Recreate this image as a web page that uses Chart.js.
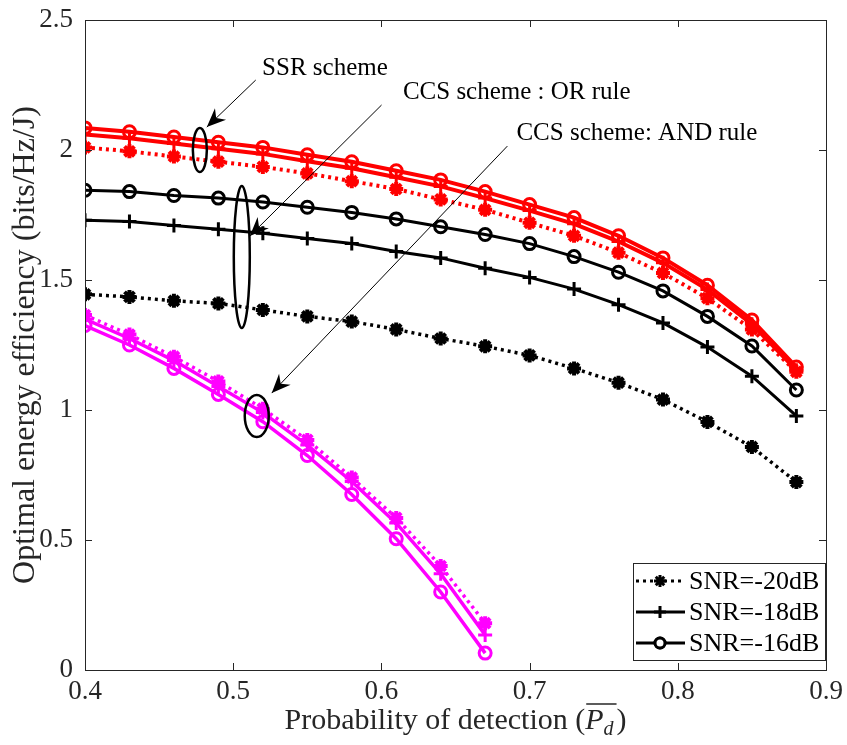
<!DOCTYPE html>
<html>
<head>
<meta charset="utf-8">
<title>Optimal energy efficiency</title>
<script src="https://cdn.jsdelivr.net/npm/chart.js@4.4.1/dist/chart.umd.min.js"></script>
<style>
  body { margin: 0; background: #fff; }
</style>
</head>
<body>
<canvas id="eeChart" width="847" height="745"></canvas>
<script>
// probability of detection samples
var pdLong = [0.40, 0.43, 0.46, 0.49, 0.52, 0.55, 0.58, 0.61, 0.64, 0.67, 0.70, 0.73, 0.76, 0.79, 0.82, 0.85, 0.88];
var pdShort = [0.40, 0.43, 0.46, 0.49, 0.52, 0.55, 0.58, 0.61, 0.64, 0.67];

// SSR scheme (red)
var ssr20 = [2.010, 1.995, 1.975, 1.955, 1.935, 1.910, 1.880, 1.850, 1.810, 1.770, 1.720, 1.670, 1.605, 1.527, 1.430, 1.310, 1.147];
var ssr18 = [2.060, 2.045, 2.025, 2.005, 1.985, 1.957, 1.930, 1.895, 1.860, 1.815, 1.767, 1.716, 1.648, 1.566, 1.463, 1.330, 1.153];
var ssr16 = [2.085, 2.070, 2.050, 2.030, 2.010, 1.982, 1.955, 1.920, 1.885, 1.840, 1.790, 1.740, 1.670, 1.585, 1.480, 1.346, 1.165];

// CCS scheme, OR rule (black)
var or20 = [1.445, 1.435, 1.420, 1.410, 1.385, 1.360, 1.340, 1.310, 1.275, 1.245, 1.210, 1.160, 1.105, 1.040, 0.954, 0.858, 0.723];
var or18 = [1.730, 1.725, 1.710, 1.695, 1.680, 1.660, 1.640, 1.610, 1.585, 1.545, 1.510, 1.465, 1.405, 1.335, 1.242, 1.130, 0.977];
var or16 = [1.845, 1.840, 1.825, 1.815, 1.800, 1.780, 1.760, 1.735, 1.705, 1.675, 1.640, 1.590, 1.530, 1.458, 1.360, 1.246, 1.077];

// CCS scheme, AND rule (magenta)
var and20 = [1.365, 1.290, 1.205, 1.110, 1.005, 0.885, 0.740, 0.585, 0.400, 0.180];
var and18 = [1.350, 1.275, 1.190, 1.090, 0.990, 0.865, 0.725, 0.565, 0.370, 0.135];
var and16 = [1.325, 1.250, 1.160, 1.060, 0.955, 0.825, 0.675, 0.505, 0.300, 0.065];

var xTicks = [0.4, 0.5, 0.6, 0.7, 0.8, 0.9];
var yTicks = [0, 0.5, 1, 1.5, 2, 2.5];
var snrLabels = ['SNR=-20dB', 'SNR=-18dB', 'SNR=-16dB'];

var axisColor = '#262626';
var serif = '"Liberation Serif", "DejaVu Serif", serif';

function pts(xs, ys) {
    return ys.map(function (v, i) { return { x: xs[i], y: v }; });
}

function series(xs, ys, color, kind, width) {
    var ds = {
        data: pts(xs, ys),
        borderColor: color,
        backgroundColor: color,
        borderWidth: width,
        pointBorderColor: color,
        pointBorderWidth: 3,
        pointRadius: 6,
        pointHoverRadius: 6,
        tension: 0,
        fill: false
    };
    if (kind === 'star') {
        ds.pointStyle = 'star';
        ds.pointRadius = 7;
        ds.pointBorderWidth = 4;
        ds.borderDash = [3, 4];
    } else if (kind === 'cross') {
        ds.pointStyle = 'cross';
        ds.pointRadius = 7;
    } else {
        ds.pointStyle = 'circle';
        ds.pointBackgroundColor = 'rgba(0,0,0,0)';
    }
    return ds;
}

// annotation callouts (data coordinates, ellipse radii in px)
var callouts = [
    { text: 'SSR scheme', tx: 0.5195, ty: 2.315, from: [0.5152, 2.269], to: [0.4822, 2.088], ex: 0.4775, ey: 2.0, rx: 7, ry: 22 },
    { text: 'CCS scheme : OR rule', tx: 0.6145, ty: 2.223, from: [0.6001, 2.173], to: [0.5112, 1.669], ex: 0.5058, ey: 1.588, rx: 8, ry: 71 },
    { text: 'CCS scheme: AND rule', tx: 0.6911, ty: 2.065, from: [0.6850, 2.015], to: [0.5260, 1.065], ex: 0.5159, ey: 0.977, rx: 12, ry: 21 }
];

function arrowHead(ctx, x0, y0, x1, y1) {
    var a = Math.atan2(y1 - y0, x1 - x0);
    var len = 19, half = 8, notch = 13;
    ctx.save();
    ctx.translate(x1, y1);
    ctx.rotate(a);
    ctx.beginPath();
    ctx.moveTo(0, 0);
    ctx.lineTo(-len, -half);
    ctx.lineTo(-notch, 0);
    ctx.lineTo(-len, half);
    ctx.closePath();
    ctx.fillStyle = '#000';
    ctx.fill();
    ctx.restore();
}

// keep the plot box fixed regardless of tick label overflow
function noPad(s) {
    s.paddingTop = 0; s.paddingBottom = 0;
    s.paddingLeft = 0; s.paddingRight = 0;
}

var framePlugin = {
    id: 'frame',
    afterDatasetsDraw: function (chart) {
        var ctx = chart.ctx, a = chart.chartArea;
        var xs = chart.scales.x, ys = chart.scales.y;
        ctx.save();

        // box with inward ticks
        ctx.strokeStyle = axisColor;
        ctx.lineWidth = 1;
        ctx.strokeRect(a.left + 0.5, a.top + 0.5, a.right - a.left, a.bottom - a.top);
        ctx.beginPath();
        xTicks.forEach(function (t) {
            var px = Math.round(xs.getPixelForValue(t)) + 0.5;
            ctx.moveTo(px, a.bottom); ctx.lineTo(px, a.bottom - 7);
            ctx.moveTo(px, a.top); ctx.lineTo(px, a.top + 7);
        });
        yTicks.forEach(function (t) {
            var py = Math.round(ys.getPixelForValue(t)) + 0.5;
            ctx.moveTo(a.left, py); ctx.lineTo(a.left + 7, py);
            ctx.moveTo(a.right, py); ctx.lineTo(a.right - 7, py);
        });
        ctx.stroke();

        // callouts
        ctx.strokeStyle = '#000';
        ctx.fillStyle = '#000';
        callouts.forEach(function (c) {
            var fx = xs.getPixelForValue(c.from[0]), fy = ys.getPixelForValue(c.from[1]);
            var tx = xs.getPixelForValue(c.to[0]), ty = ys.getPixelForValue(c.to[1]);
            ctx.lineWidth = 1;
            ctx.beginPath();
            ctx.moveTo(fx, fy);
            ctx.lineTo(tx, ty);
            ctx.stroke();
            arrowHead(ctx, fx, fy, tx, ty);

            ctx.lineWidth = 2.5;
            ctx.beginPath();
            ctx.ellipse(xs.getPixelForValue(c.ex), ys.getPixelForValue(c.ey), c.rx, c.ry, 0, 0, Math.PI * 2);
            ctx.stroke();

            ctx.font = '25px ' + serif;
            ctx.textAlign = 'left';
            ctx.textBaseline = 'middle';
            ctx.fillText(c.text, xs.getPixelForValue(c.tx), ys.getPixelForValue(c.ty));
        });

        // legend
        var lx = 633, ly = 563, lw = a.right - lx, lh = 98;
        ctx.fillStyle = '#fff';
        ctx.fillRect(lx, ly, lw, lh);
        ctx.strokeStyle = axisColor;
        ctx.lineWidth = 1;
        ctx.strokeRect(lx + 0.5, ly + 0.5, lw - 1, lh - 1);
        var kinds = ['star', 'cross', 'circle'];
        kinds.forEach(function (k, i) {
            var y = ly + 18 + i * 31;
            ctx.strokeStyle = '#000';
            ctx.fillStyle = '#000';
            ctx.lineWidth = 3;
            ctx.setLineDash(k === 'star' ? [3, 4] : []);
            ctx.beginPath();
            ctx.moveTo(lx + 3, y);
            ctx.lineTo(lx + 52, y);
            ctx.stroke();
            ctx.setLineDash([]);
            Chart.helpers.drawPoint(ctx, {
                pointStyle: k,
                radius: k === 'circle' ? 5 : 6,
                borderWidth: k === 'star' ? 4 : 3,
                rotation: 0
            }, lx + 27, y);
            if (k === 'circle') {
                ctx.beginPath();
                ctx.arc(lx + 27, y, 5, 0, Math.PI * 2);
                ctx.fillStyle = '#fff';
                ctx.fill();
                ctx.stroke();
                ctx.fillStyle = '#000';
            }
            ctx.font = '26px ' + serif;
            ctx.textAlign = 'left';
            ctx.textBaseline = 'middle';
            ctx.fillStyle = '#000';
            ctx.fillText(snrLabels[i], lx + 56, y + 1);
        });

        // x axis title with overlined P and subscript d
        var base = a.bottom + 59;
        var part1 = 'Probability of detection (';
        var big = '30px ' + serif, bigIt = 'italic 30px ' + serif, small = 'italic 20px ' + serif;
        ctx.fillStyle = axisColor;
        ctx.textBaseline = 'alphabetic';
        ctx.textAlign = 'left';
        ctx.font = big;
        var w1 = ctx.measureText(part1).width;
        var wClose = ctx.measureText(')').width;
        ctx.font = bigIt;
        var wP = ctx.measureText('P').width;
        ctx.font = small;
        var wd = ctx.measureText('d').width;
        var total = w1 + wP + wd + 3 + wClose;
        var sx = (a.left + a.right) / 2 - total / 2;
        ctx.font = big;
        ctx.fillText(part1, sx, base);
        ctx.font = bigIt;
        ctx.fillText('P', sx + w1, base);
        ctx.font = small;
        ctx.fillText('d', sx + w1 + wP, base + 6);
        ctx.lineWidth = 1.5;
        ctx.strokeStyle = axisColor;
        ctx.beginPath();
        ctx.moveTo(sx + w1 + 1, base - 25);
        ctx.lineTo(sx + w1 + wP + wd + 3, base - 25);
        ctx.stroke();
        ctx.font = big;
        ctx.fillText(')', sx + w1 + wP + wd + 3, base);

        ctx.restore();
    }
};

var ctx = document.getElementById('eeChart').getContext('2d');
var eeChart = new Chart(ctx, {
    type: 'line',
    data: {
        datasets: [
            series(pdShort, and20, '#ff00ff', 'star', 3.5),
            series(pdShort, and18, '#ff00ff', 'cross', 3.5),
            series(pdShort, and16, '#ff00ff', 'circle', 3.5),
            series(pdLong, or20, '#000000', 'star', 3.5),
            series(pdLong, or18, '#000000', 'cross', 3),
            series(pdLong, or16, '#000000', 'circle', 3),
            series(pdLong, ssr20, '#ff0000', 'star', 4),
            series(pdLong, ssr18, '#ff0000', 'cross', 4),
            series(pdLong, ssr16, '#ff0000', 'circle', 4)
        ]
    },
    options: {
        responsive: false,
        animation: false,
        devicePixelRatio: 1,
        layout: { padding: { top: 20, right: 21, left: 0, bottom: 0 } },
        plugins: {
            legend: { display: false },
            tooltip: { enabled: false }
        },
        scales: {
            x: {
                type: 'linear',
                min: 0.4,
                max: 0.9,
                afterFit: function (s) { s.height = 75; noPad(s); },
                afterBuildTicks: function (s) { s.ticks = xTicks.map(function (v) { return { value: v }; }); },
                grid: { display: false, drawTicks: false },
                border: { display: false },
                ticks: {
                    color: axisColor,
                    padding: 6,
                    maxRotation: 0,
                    font: { family: serif, size: 27 },
                    callback: function (v) { return String(Math.round(v * 10) / 10); }
                }
            },
            y: {
                type: 'linear',
                min: 0,
                max: 2.5,
                afterFit: function (s) { s.width = 85; noPad(s); },
                afterBuildTicks: function (s) { s.ticks = yTicks.map(function (v) { return { value: v }; }); },
                grid: { display: false, drawTicks: false },
                border: { display: false },
                title: {
                    display: true,
                    text: 'Optimal energy efficiency (bits/Hz/J)',
                    color: axisColor,
                    font: { family: serif, size: 32 },
                    padding: { top: 6, bottom: 0 }
                },
                ticks: {
                    color: axisColor,
                    padding: 12,
                    font: { family: serif, size: 27 },
                    callback: function (v) { return String(v); }
                }
            }
        }
    },
    plugins: [framePlugin]
});
</script>
</body>
</html>
